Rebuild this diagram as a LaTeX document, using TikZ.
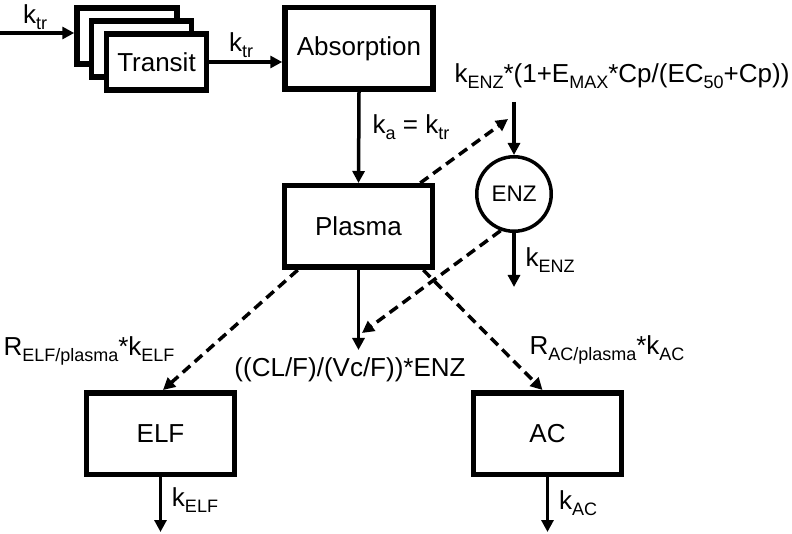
\documentclass[tikz,border=0pt]{standalone}
\usepackage{fontspec}
\setmainfont{Liberation Sans}
\usetikzlibrary{arrows.meta}
\newcommand{\lsub}[1]{\raisebox{-0.22em}{\fontsize{18}{19}\selectfont #1}}
\tikzset{
  box/.style={draw, line width=5.5pt, fill=white, minimum width=148pt, minimum height=81.5pt, inner sep=0pt},
  tbox/.style={draw, line width=5.5pt, fill=white, minimum width=100pt, minimum height=56pt, inner sep=0pt},
  arr/.style={line width=3.5pt, -{Triangle[length=12pt,width=12pt]}},
  darr/.style={line width=3.5pt, dash pattern=on 10pt off 6pt, -{Triangle[length=12pt,width=12pt]}},
  lbl/.style={inner sep=0pt},
  every node/.style={font=\fontsize{26}{29}\selectfont}
}
\begin{document}
\begin{tikzpicture}[x=1pt,y=-1pt]
\useasboundingbox (0,0) rectangle (792,534);
% transit stack
\node[tbox] (t1) at (127,36) {};
\node[tbox] (t2) at (141.5,49) {};
\node[tbox] (t3) at (156.5,62) {Transit};
\node[box] (abs) at (359,48.5) {Absorption};
\node[box] (pl) at (358.5,226.5) {Plasma};
\node[box] (elf) at (160.5,433.5) {ELF};
\node[box] (ac) at (547.5,433.5) {AC};
\node[draw, circle, line width=3.5pt, minimum size=74.5pt, inner sep=0pt, font=\fontsize{22.5}{24}\selectfont] (enz) at (514,194) {ENZ};
% coordinates
\coordinate (in) at (0,33);
\coordinate (fk) at (514,102);
\coordinate (mid) at (508,119);
\coordinate (ke) at (514,287);
\coordinate (c2) at (362,333);
\coordinate (cv) at (358.5,350);
\coordinate (e1) at (160.5,532);
\coordinate (a1) at (547.5,532);
% arrows
\draw[arr] (in) -- (in -| t1.west);
\draw[arr] (t3.east) -- (t3.east -| abs.west);
\draw[arr] (abs.south) -- (pl.north);
\draw[arr] (fk) -- (enz.north);
\draw[darr] ([xshift=-15pt]pl.north east) -- (mid);
\draw[arr] (enz.south) -- (ke);
\draw[darr] (enz.250) -- (c2);
\draw[arr] (pl.south) -- (cv);
\draw[darr] ([xshift=16pt]pl.south west) -- ([xshift=2.5pt]elf.north);
\draw[darr] ([xshift=-12pt]pl.south east) -- ([xshift=-5pt]ac.north);
\draw[arr] (elf.south) -- (e1);
\draw[arr] (ac.south) -- (a1);
% labels
\node[lbl] (l1) at (35,17) {k\lsub{tr}};
\node[lbl] (l2) at (241,45) {k\lsub{tr}};
\node[lbl] (l3) at (411,127) {k\lsub{a} = k\lsub{tr}};
\node[lbl] (l4) at (622,76) {k\lsub{ENZ}*(1+E\lsub{MAX}*Cp/(EC\lsub{50}+Cp))};
\node[lbl] (l5) at (550,260) {k\lsub{ENZ}};
\node[lbl] (l6) at (350,370) {((CL/F)/(Vc/F))*ENZ};
\node[lbl] (l7) at (89,351) {R\lsub{ELF/plasma}*k\lsub{ELF}};
\node[lbl] (l8) at (607,350) {R\lsub{AC/plasma}*k\lsub{AC}};
\node[lbl] (l9) at (195,500) {k\lsub{ELF}};
\node[lbl] (l10) at (578,503) {k\lsub{AC}};
\end{tikzpicture}
\end{document}
